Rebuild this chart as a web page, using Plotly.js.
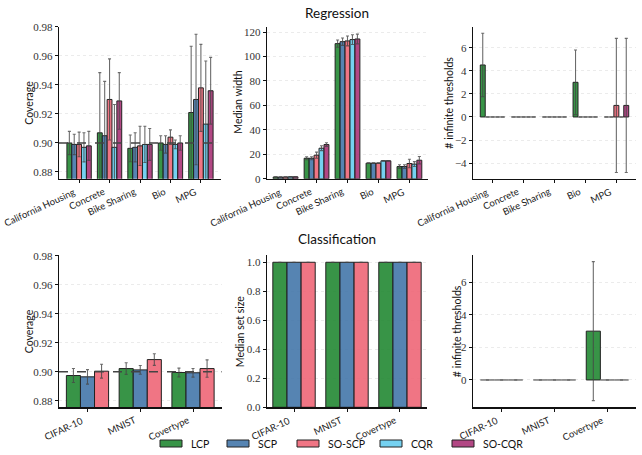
<!DOCTYPE html>
<html>
<head>
<meta charset="utf-8">
<script src="https://cdn.plot.ly/plotly-3.0.1.min.js"></script>
<style>
  html, body { margin: 0; padding: 0; background: #fff; }
  #chart { width: 642px; height: 455px; }
</style>
</head>
<body>
<div id="chart"></div>
<script>
// ---- data -------------------------------------------------------------
const methods = ['LCP', 'SCP', 'SO-SCP', 'CQR', 'SO-CQR'];
const methodColors = ['#228833', '#4477AA', '#EE6677', '#66CCEE', '#AA3377'];

const regDatasets = ['California Housing', 'Concrete', 'Bike Sharing', 'Bio', 'MPG'];
const clsDatasets = ['CIFAR-10', 'MNIST', 'Covertype'];
const clsMethodCount = 3; // LCP, SCP, SO-SCP

// rows = methods, columns = regression datasets
const regCoverage = [
  [0.900, 0.907, 0.8963, 0.900, 0.921],
  [0.899, 0.905, 0.897, 0.899, 0.930],
  [0.899, 0.930, 0.898, 0.904, 0.938],
  [0.897, 0.897, 0.899, 0.899, 0.913],
  [0.898, 0.929, 0.899, 0.900, 0.936]
];
const regCoverageErr = [
  [0.008, 0.0415, 0.0092, 0.005, 0.0457],
  [0.007, 0.0375, 0.010, 0.006, 0.045],
  [0.0085, 0.028, 0.0135, 0.005, 0.030],
  [0.010, 0.0295, 0.0125, 0.003, 0.0435],
  [0.010, 0.0195, 0.011, 0.005, 0.023]
];
const regWidth = [
  [1.5, 16.8, 110.5, 12.8, 10.0],
  [1.4, 16.8, 112.1, 12.8, 10.0],
  [1.5, 19.3, 112.7, 12.8, 12.5],
  [1.6, 25.0, 113.8, 14.7, 12.0],
  [1.6, 28.0, 114.3, 14.7, 15.2]
];
const regWidthErr = [
  [0.2, 1.2, 3.0, 0.3, 1.5],
  [0.2, 1.2, 3.0, 0.3, 1.5],
  [0.2, 2.5, 4.0, 0.3, 3.5],
  [0.2, 2.0, 4.0, 0.3, 2.0],
  [0.2, 1.5, 4.0, 0.3, 3.0]
];
const regInfinite = [
  [4.5, 0, 0, 3.0, 0],
  [0, 0, 0, 0, 0],
  [0, 0, 0, 0, 1],
  [0, 0, 0, 0, 0],
  [0, 0, 0, 0, 1]
];
const regInfiniteErr = [
  [2.74, 0, 0, 2.8, 0],
  [0, 0, 0, 0, 0],
  [0, 0, 0, 0, 5.8],
  [0, 0, 0, 0, 0],
  [0, 0, 0, 0, 5.8]
];

// rows = LCP, SCP, SO-SCP; columns = classification datasets
const clsCoverage = [
  [0.8974, 0.9022, 0.8995],
  [0.8965, 0.9013, 0.8993],
  [0.9004, 0.9084, 0.9022]
];
const clsCoverageErr = [
  [0.0048, 0.004, 0.003],
  [0.005, 0.003, 0.003],
  [0.0048, 0.004, 0.006]
];
const clsSetSize = [
  [1, 1, 1],
  [1, 1, 1],
  [1, 1, 1]
];
const clsSetSizeErr = [
  [0, 0, 0],
  [0, 0, 0],
  [0, 0, 0]
];
const clsInfinite = [
  [0, 0, 3.0],
  [0, 0, 0],
  [0, 0, 0]
];
const clsInfiniteErr = [
  [0, 0, 4.27],
  [0, 0, 0],
  [0, 0, 0]
];

const targetCoverage = 0.9;

// ---- layout helpers -----------------------------------------------------
const W = 642, H = 455;
const px = v => v / W;
const py = v => 1 - v / H;

const SANS = 'Lato, "DejaVu Sans", sans-serif';
const SERIF = '"Liberation Serif", "DejaVu Serif", serif';

function rgba(hex, a) {
  const n = parseInt(hex.slice(1), 16);
  return `rgba(${(n >> 16) & 255},${(n >> 8) & 255},${n & 255},${a})`;
}

// panel boxes in pixels: [left, right, top, bottom]; titleX = centre of the y title
const panels = [
  { box: [59, 221, 26.5, 178.8], cats: regDatasets, vals: regCoverage, errs: regCoverageErr, n: 5,
    title: 'Coverage', titleX: 29, range: [0.8753, 0.9803], dtick: 0.02, fmt: '.2f', xr: [-0.66, 4.66], target: true },
  { box: [267, 428, 26.5, 178.8], cats: regDatasets, vals: regWidth, errs: regWidthErr, n: 5,
    title: 'Median width', titleX: 238, range: [0, 124.5], dtick: 20, fmt: 'd', xr: [-0.6, 4.6] },
  { box: [473, 636, 26.5, 178.8], cats: regDatasets, vals: regInfinite, errs: regInfiniteErr, n: 5,
    title: '# infinite thresholds', titleX: 449, range: [-5.35, 7.83], dtick: 2, fmt: 'd', xr: [-0.635, 4.635] },
  { box: [59, 221.5, 255, 407.3], cats: clsDatasets, vals: clsCoverage, errs: clsCoverageErr, n: clsMethodCount,
    title: 'Coverage', titleX: 29, range: [0.8755, 0.9805], dtick: 0.02, fmt: '.2f', xr: [-0.54, 2.54], target: true },
  { box: [267, 427, 255, 407.3], cats: clsDatasets, vals: clsSetSize, errs: clsSetSizeErr, n: clsMethodCount,
    title: 'Median set size', titleX: 240, range: [0, 1.05], dtick: 0.2, fmt: '.1f', xr: [-0.51, 2.51] },
  { box: [473, 636, 255, 407.3], cats: clsDatasets, vals: clsInfinite, errs: clsInfiniteErr, n: clsMethodCount,
    title: '# infinite thresholds', titleX: 457, range: [-1.68, 7.68], dtick: 2, fmt: 'd', xr: [-0.54, 2.54] }
];

const traces = [];
const layout = {
  width: W, height: H,
  margin: { l: 0, r: 0, t: 0, b: 0 },
  paper_bgcolor: '#fff', plot_bgcolor: '#fff',
  showlegend: false,
  barmode: 'group', bargap: 0.2, bargroupgap: 0,
  font: { family: SANS, size: 10, color: '#222' },
  shapes: [], annotations: []
};

panels.forEach((p, k) => {
  const id = k === 0 ? '' : String(k + 1);
  const xa = 'x' + id, ya = 'y' + id;
  for (let m = 0; m < p.n; m++) {
    traces.push({
      type: 'bar', name: methods[m], xaxis: xa, yaxis: ya,
      x: p.cats, y: p.vals[m],
      marker: {
        color: rgba(methodColors[m], 0.9),
        // flat (zero-height) bars collapse to a soft grey stroke
        line: { color: p.vals[m].map(v => (v === 0 ? '#777' : '#222')), width: 1 }
      },
      error_y: { type: 'data', array: p.errs[m], visible: true,
                 color: 'rgba(70,70,70,0.8)', thickness: 1.1, width: 1.5 },
      hoverinfo: 'skip'
    });
  }
  const [l, r, t, b] = p.box;
  layout['xaxis' + id] = {
    domain: [px(l), px(r)], anchor: ya, type: 'category', range: p.xr,
    showline: true, linecolor: '#111', linewidth: 1.2,
    ticks: 'outside', ticklen: 3, tickcolor: '#111', tickwidth: 1,
    showticklabels: false, showgrid: false, zeroline: false
  };
  layout['yaxis' + id] = {
    domain: [py(b), py(t)], anchor: xa, range: p.range,
    dtick: p.dtick, tick0: 0, tickformat: p.fmt,
    showline: true, linecolor: '#111', linewidth: 1.2,
    ticks: 'outside', ticklen: 3, tickcolor: '#111', tickwidth: 1,
    showgrid: true, gridcolor: '#e2e2e2', griddash: 'dot', gridwidth: 0.7,
    zeroline: false,
    tickfont: { family: SERIF, size: 11, color: '#333' }
  };

  // slanted category labels, right end hung just under each tick
  p.cats.forEach((c, i) => {
    layout.annotations.push({
      text: c, xref: xa, yref: ya + ' domain', x: i, y: 0,
      xanchor: 'right', yanchor: 'top', yshift: -4.5, textangle: -25,
      showarrow: false, font: { family: SANS, size: 9.5, color: '#222' }
    });
  });

  // y-axis title, centred on the panel
  layout.annotations.push({
    text: p.title, xref: 'paper', yref: ya + ' domain', x: px(p.titleX), y: 0.5,
    xanchor: 'center', yanchor: 'middle', textangle: -90, showarrow: false,
    font: { family: SANS, size: 10.5, color: '#111' }
  });

  if (p.target) {
    layout.shapes.push({
      type: 'line', xref: xa + ' domain', yref: ya, x0: 0, x1: 1,
      y0: targetCoverage, y1: targetCoverage,
      line: { color: '#444', width: 1.5, dash: 'dash' }
    });
  }
});

// section titles
layout.annotations.push(
  { text: 'Regression', xref: 'paper', yref: 'paper', x: px(337), y: py(13),
    xanchor: 'center', yanchor: 'middle', showarrow: false,
    font: { family: SANS, size: 13.5, color: '#111' } },
  { text: 'Classification', xref: 'paper', yref: 'paper', x: px(337), y: py(239),
    xanchor: 'center', yanchor: 'middle', showarrow: false,
    font: { family: SANS, size: 13.5, color: '#111' } }
);

// legend row: swatch + label per method
const legendSwatchX = [160, 227, 297, 380, 452];
methods.forEach((name, i) => {
  const x0 = legendSwatchX[i];
  layout.shapes.push({
    type: 'rect', xref: 'paper', yref: 'paper',
    x0: px(x0), x1: px(x0 + 22), y0: py(447), y1: py(440),
    fillcolor: rgba(methodColors[i], 0.9), line: { color: '#222', width: 1 }
  });
  layout.annotations.push({
    text: name, xref: 'paper', yref: 'paper', x: px(x0 + 29), y: py(443.5),
    xanchor: 'left', yanchor: 'middle', showarrow: false,
    font: { family: SANS, size: 10.5, color: '#111' }
  });
});

Plotly.newPlot('chart', traces, layout, { staticPlot: true, displayModeBar: false });
</script>
</body>
</html>
